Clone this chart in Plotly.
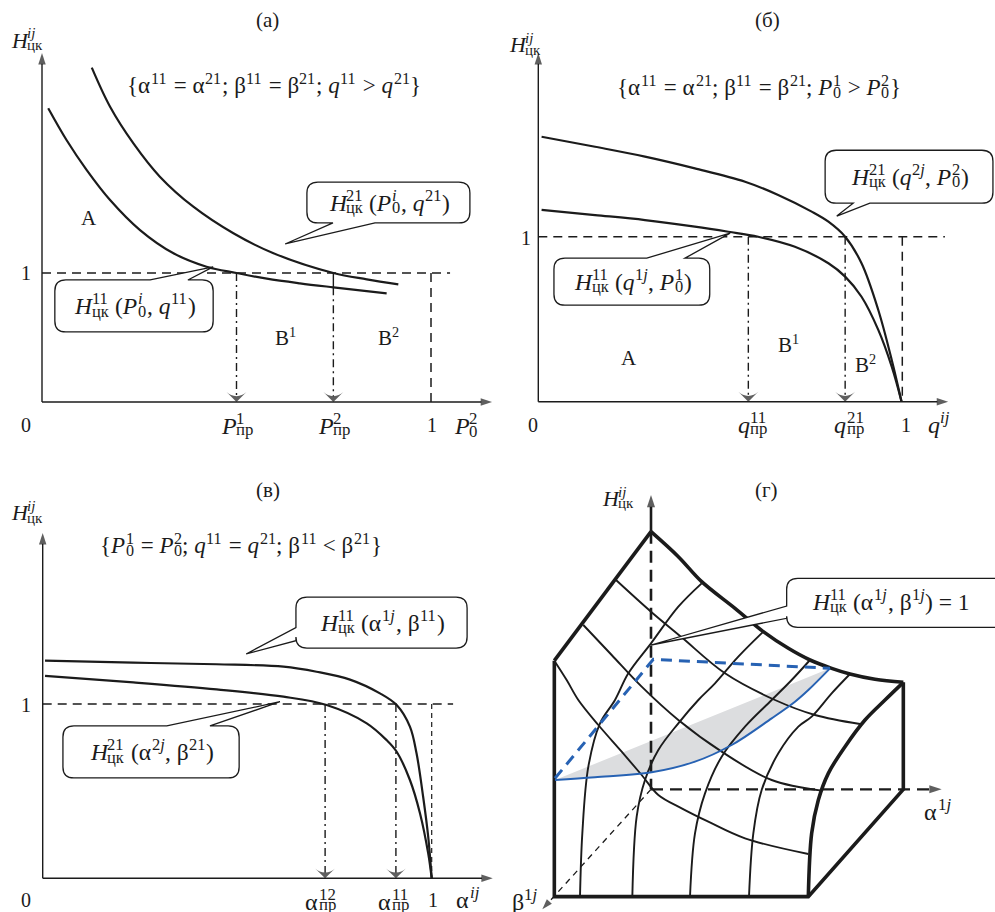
import plotly.graph_objects as go

W, H = 995, 912
FONT = "'Liberation Serif', 'Times New Roman', Tinos, 'DejaVu Serif', serif"
INK = "#1b1b1b"
BLUE = "#2762b3"
GRAY = "#dcdddf"

# ---------------- data: panel (а) ----------------
a_h11_x = [0.016, 0.063, 0.115, 0.175, 0.252, 0.338, 0.423, 0.500, 0.578, 0.663, 0.749, 0.886]
a_h11_y = [2.277, 2.031, 1.798, 1.566, 1.333, 1.153, 1.049, 1.000, 0.956, 0.920, 0.889, 0.842]
a_h21_x = [0.128, 0.175, 0.235, 0.303, 0.389, 0.492, 0.595, 0.749, 0.835, 0.916]
a_h21_y = [2.592, 2.289, 2.005, 1.747, 1.514, 1.308, 1.153, 1.000, 0.951, 0.912]
a_limits = [0.500, 0.749]
a_limit_low = 0.889
a_axes = [1.157, 2.705, 1.049]        # x-axis end, y-axis end, end of level line

# ---------------- data: panel (б) ----------------
b_h21_x = [0.009, 0.156, 0.293, 0.430, 0.568, 0.659, 0.751, 0.797, 0.843, 0.888, 0.934, 0.971, 0.998]
b_h21_y = [1.606, 1.545, 1.485, 1.414, 1.333, 1.253, 1.152, 1.091, 1.000, 0.839, 0.556, 0.253, 0.0]
b_h11_x = [0.009, 0.156, 0.293, 0.430, 0.522, 0.604, 0.705, 0.797, 0.843, 0.888, 0.934, 0.971, 0.998]
b_h11_y = [1.162, 1.131, 1.101, 1.061, 1.030, 1.000, 0.939, 0.839, 0.758, 0.636, 0.435, 0.212, 0.0]
b_limits = [0.577, 0.843]
b_axes = [1.126, 2.113, 1.117]

# ---------------- data: panel (в) ----------------
c_h11_x = [0.006, 0.233, 0.447, 0.619, 0.704, 0.790, 0.867, 0.910, 0.944, 0.961, 0.978, 0.991, 1.0]
c_h11_y = [1.249, 1.237, 1.228, 1.214, 1.185, 1.140, 1.061, 0.994, 0.870, 0.717, 0.468, 0.239, 0.0]
c_h21_x = [0.006, 0.233, 0.447, 0.619, 0.730, 0.833, 0.884, 0.910, 0.944, 0.970, 0.991, 1.0]
c_h21_y = [1.161, 1.124, 1.084, 1.042, 0.994, 0.889, 0.793, 0.726, 0.564, 0.372, 0.143, 0.0]
c_limits = [0.726, 0.908]
c_axes = [1.157, 1.981, 1.055]

# ---------------- data: panel (г), schematic surface (drawing units) ----------------
g_apex = [468, 245]
g_origin = [468, 1018]
g_top_left_x = [468, 178]
g_top_left_y = [245, 632]
g_top_right_x = [468, 550, 620, 720, 805, 880, 945, 1010, 1065, 1140, 1225]
g_top_right_y = [245, 320, 395, 475, 545, 595, 630, 655, 672, 688, 697]
g_front_x = [1225, 1170, 1110, 1050, 1000, 970, 950, 940]
g_front_y = [697, 750, 810, 890, 970, 1050, 1150, 1340]
g_box_x = [178, 178, 940, 1225, 1225]
g_box_y = [632, 1340, 1340, 1018, 697]
g_b1_x = [363, 468, 560, 690, 840, 960, 1095]
g_b1_y = [390, 485, 562, 670, 750, 795, 822]
g_b2_x = [265, 350, 440, 550, 680, 830, 980]
g_b2_y = [525, 615, 710, 810, 905, 990, 1022]
g_b3_x = [178, 215, 250, 310, 380, 440, 490, 560, 640, 750, 940]
g_b3_y = [632, 690, 750, 825, 905, 975, 1035, 1075, 1115, 1165, 1212]
g_a1_x = [620, 550, 468, 400, 360, 315, 280, 262, 255]
g_a1_y = [400, 470, 580, 670, 750, 820, 950, 1150, 1340]
g_a2_x = [805, 730, 660, 610, 550, 490, 450, 425, 412]
g_a2_y = [545, 620, 700, 750, 820, 900, 990, 1100, 1340]
g_a3_x = [945, 890, 830, 750, 680, 630, 600, 585]
g_a3_y = [630, 690, 750, 830, 920, 1030, 1150, 1340]
g_a4_x = [1065, 1010, 950, 910, 850, 800, 775, 762]
g_a4_y = [672, 730, 800, 830, 910, 1020, 1150, 1340]
g_blue_dash_x = [180, 475, 1005]
g_blue_dash_y = [985, 628, 655]
g_blue_x = [180, 300, 470, 600, 710, 830, 900, 940, 1005]
g_blue_y = [990, 982, 967, 935, 885, 805, 755, 720, 655]
g_alpha_end = [1340, 1018]
g_beta_end = [142, 1378]
g_h_end = [468, 135]

fig = go.Figure()


class Panel:
    def __init__(self, idx, px0, px1, py0, py1, region):
        self.idx = idx
        self.px0, self.py0 = px0, py0
        self.sx, self.sy = px1 - px0, py0 - py1
        self.region = region
        s = "" if idx == 1 else str(idx)
        self.xa, self.ya = "x" + s, "y" + s
        self.key = s

    def px(self, x, y):
        return self.px0 + x * self.sx, self.py0 - y * self.sy

    def data(self, X, Y):
        return (X - self.px0) / self.sx, (self.py0 - Y) / self.sy

    def apply(self):
        rx0, rx1, ry0, ry1 = self.region
        xr = [self.data(rx0, 0)[0], self.data(rx1, 0)[0]]
        yr = [self.data(0, ry1)[1], self.data(0, ry0)[1]]
        fig.layout["xaxis" + self.key] = dict(domain=[rx0 / W, rx1 / W], range=xr, visible=False,
                                              fixedrange=True, anchor=self.ya)
        fig.layout["yaxis" + self.key] = dict(domain=[1 - ry1 / H, 1 - ry0 / H], range=yr, visible=False,
                                              fixedrange=True, anchor=self.xa)


PA = Panel(1, 42, 431, 402, 273, (0, 495, 0, 450))
PB = Panel(2, 538.3, 902.3, 401.7, 236.7, (495, 995, 0, 450))
PC = Panel(3, 42.7, 431.7, 878.3, 704, (0, 495, 450, 912))
PD = Panel(4, 495, 495 + 1 / 3, 450, 450 + 1 / 3, (495, 995, 450, 912))
for P in (PA, PB, PC, PD):
    P.apply()


def line(P, xs, ys, width=2.0, dash="solid", color=INK, spline=False):
    fig.add_trace(go.Scatter(x=xs, y=ys, xaxis=P.xa, yaxis=P.ya, mode="lines", hoverinfo="skip",
                             line=dict(color=color, width=width, dash=dash,
                                       shape="spline" if spline else "linear", smoothing=1.0)))


def arrow(P, x0, y0, x1, y1, width=1.4, size=12, symbol="arrow", dash="solid"):
    fig.add_trace(go.Scatter(x=[x0, x1], y=[y0, y1], xaxis=P.xa, yaxis=P.ya, mode="lines+markers",
                             hoverinfo="skip", line=dict(color=INK, width=width, dash=dash),
                             marker=dict(symbol=["circle", symbol], size=[0, size], color=INK,
                                         angleref="previous", line=dict(width=0))))


REG = {' ': 0.25, '(': 0.333, ')': 0.333, ',': 0.25, ';': 0.278, '=': 0.564, '>': 0.564, '<': 0.564,
       '{': 0.48, '}': 0.48, 'A': 0.722, 'B': 0.667, 'α': 0.55, 'β': 0.5, 'ц': 0.5, 'к': 0.47,
       'п': 0.5, 'р': 0.5, 'а': 0.444, 'б': 0.5, 'в': 0.47, 'г': 0.41}
ITAL = {'H': 0.722, 'P': 0.611, 'q': 0.5, 'i': 0.278, 'j': 0.278}


def strw(s):
    return sum(ITAL.get(c, REG.get(c, 0.5)) for c in s)


def fmt(s):
    out = ""
    for c in s:
        t = {'<': '&lt;', '>': '&gt;'}.get(c, c)
        out += "<i>%s</i>" % t if c in ITAL else t
    return out.replace("</i><i>", "")


def parse(s):
    items, i = [], 0
    while i < len(s):
        c = s[i]
        if c in "^_":
            if s[i + 1] == "{":
                j = s.index("}", i)
                g = s[i + 2:j]
                i = j + 1
            else:
                g = s[i + 1]
                i += 2
            if items and items[-1][0] == "s":
                last = items[-1]
            else:
                last = ["s", "", ""]
                items.append(last)
            last[1 if c == "^" else 2] = g
        else:
            items.append(["c", c])
            i += 1
    return items


def label(P, x, y, s, size=21, align="center", r=0.68, sup=0.30, sub=-0.22):
    pieces, run = [], ""
    for it in parse(s):
        if it[0] == "c":
            run += it[1]
        else:
            if run:
                pieces.append(("r", run))
                run = ""
            pieces.append(("s", it[1], it[2]))
    if run:
        pieces.append(("r", run))
    ss = size * r
    total, lay = 0.0, []
    for p in pieces:
        if p[0] == "r":
            lay.append((total, fmt(p[1]), size, 0))
            total += strw(p[1]) * size
        else:
            if p[1]:
                lay.append((total + 0.02 * size, fmt(p[1]), ss, sup * size))
            if p[2]:
                lay.append((total + 0.02 * size, fmt(p[2]), ss, sub * size))
            total += max(strw(p[1]), strw(p[2])) * ss + 0.05 * size
    start = {"center": -total / 2, "left": 0, "right": -total}[align]
    for off, txt, fs, ysh in lay:
        fig.add_annotation(x=x, y=y, xref=P.xa, yref=P.ya, text=txt, showarrow=False,
                           xanchor="left", yanchor="middle", xshift=start + off, yshift=ysh,
                           borderpad=0, font=dict(family=FONT, size=fs, color=INK))


def callout(P, box, side, bases, tip, text, size=23.5, r=11):
    x0, x1, y0, y1 = box
    Xa, Ya = P.px(x0, y0)
    Xb, Yb = P.px(x1, y1)
    L, R, T, B = min(Xa, Xb), max(Xa, Xb), min(Ya, Yb), max(Ya, Yb)
    TX, TY = P.px(*tip)
    if side == "left":
        bs = sorted(P.px(x0, b)[1] for b in bases)
    else:
        bs = sorted(P.px(b, y0)[0] for b in bases)
    pts = [("M", L + r, T)]
    if side == "top":
        pts += [("L", bs[0], T), ("L", TX, TY), ("L", bs[1], T)]
    pts += [("L", R - r, T), ("Q", R, T, R, T + r), ("L", R, B - r), ("Q", R, B, R - r, B)]
    if side == "bottom":
        pts += [("L", bs[1], B), ("L", TX, TY), ("L", bs[0], B)]
    pts += [("L", L + r, B), ("Q", L, B, L, B - r)]
    if side == "left":
        pts += [("L", L, bs[1]), ("L", TX, TY), ("L", L, bs[0])]
    pts += [("L", L, T + r), ("Q", L, T, L + r, T)]
    path = ""
    for p in pts:
        cmd, vals = p[0], p[1:]
        coords = []
        for k in range(0, len(vals), 2):
            dx, dy = P.data(vals[k], vals[k + 1])
            coords.append("%.5f,%.5f" % (dx, dy))
        path += cmd + " ".join(coords) + " "
    fig.add_shape(type="path", path=path + "Z", xref=P.xa, yref=P.ya, layer="above",
                  line=dict(color=INK, width=1.3), fillcolor="white")
    if text:
        cx, cy = P.data((L + R) / 2, (T + B) / 2)
        label(P, cx, cy, text, size=size, r=0.7)


DASH = "9px,6px"
DASHDOT = "8px,4px,2px,4px"
COND, MATH, NUM, TTL, LET, HAX = 23, 24, 20, 21, 21, 22


def axis_math(P, x, y, s, align="center"):
    label(P, x, y, s, MATH, align, r=0.7, sup=0.30, sub=-0.13)


# ---------------- panel (а) ----------------
P = PA
arrow(P, 0, 0, a_axes[0], 0)
arrow(P, 0, 0, 0, a_axes[1])
line(P, [0, a_axes[2]], [1, 1], 1.5, DASH)
line(P, [1, 1], [1, 0], 1.5, DASH)
line(P, a_h11_x, a_h11_y, 2.2, spline=True)
line(P, a_h21_x, a_h21_y, 2.2, spline=True)
arrow(P, a_limits[0], 1, a_limits[0], 0, 1.4, 14, "arrow-wide", DASHDOT)
line(P, [a_limits[1], a_limits[1]], [1, a_limit_low], 1.4)
arrow(P, a_limits[1], a_limit_low, a_limits[1], 0, 1.4, 14, "arrow-wide", DASHDOT)
label(P, 0.578, 2.961, "(а)", TTL)
label(P, -0.082, 2.806, "H_{цк}^{ij}", HAX, "left")
label(P, 0.594, 2.457, "{α^{11} = α^{21}; β^{11} = β^{21}; q^{11} > q^{21}}", COND, r=0.7)
label(P, 0.118, 1.426, "A", LET)
label(P, 0.625, 0.496, "B^1", LET)
label(P, 0.889, 0.496, "B^2", LET)
label(P, -0.044, -0.180, "0", NUM)
label(P, -0.044, 1.0, "1", NUM)
axis_math(P, a_limits[0], -0.186, "P_{пр}^1")
axis_math(P, a_limits[1], -0.186, "P_{пр}^2")
label(P, 1.0, -0.180, "1", NUM)
label(P, 1.057, -0.186, "P_0^2", MATH, "left", r=0.7)
callout(P, (0.681, 1.100, 1.705, 1.388), "bottom", [0.748, 0.856], (0.625, 1.225),
        "H_{цк}^{21} (P_0^i, q^{21})")
callout(P, (0.033, 0.440, 0.946, 0.543), "top", [0.278, 0.375], (0.440, 1.047),
        "H_{цк}^{11} (P_0^i, q^{11})")

# ---------------- panel (б) ----------------
P = PB
arrow(P, 0, 0, b_axes[0], 0)
arrow(P, 0, 0, 0, b_axes[1])
line(P, [0, b_axes[2]], [1, 1], 1.5, DASH)
line(P, [1, 1], [1, 0], 1.5, DASH)
line(P, b_h21_x, b_h21_y, 2.2, spline=True)
line(P, b_h11_x, b_h11_y, 2.2, spline=True)
for xl in b_limits:
    arrow(P, xl, 1, xl, 0, 1.4, 14, "arrow-wide", DASHDOT)
label(P, 0.627, 2.313, "(б)", TTL)
label(P, -0.083, 2.162, "H_{цк}^{ij}", HAX, "left")
label(P, 0.603, 1.907, "{α^{11} = α^{21}; β^{11} = β^{21}; P_0^1 > P_0^2}", COND, r=0.7)
label(P, -0.037, 0.992, "1", NUM)
label(P, -0.017, -0.142, "0", NUM)
axis_math(P, 0.587, -0.142, "q_{пр}^{11}")
axis_math(P, 0.851, -0.142, "q_{пр}^{21}")
label(P, 1.007, -0.142, "1", NUM)
label(P, 1.067, -0.142, "q^{ij}", MATH, "left", r=0.7)
label(P, 0.246, 0.265, "A", LET)
label(P, 0.686, 0.343, "B^1", LET)
label(P, 0.897, 0.222, "B^2", LET)
callout(P, (0.788, 1.249, 1.524, 1.203), "bottom", [0.865, 0.911], (0.820, 1.125),
        "H_{цк}^{21} (q^{2j}, P_0^2)")
callout(P, (0.043, 0.471, 0.870, 0.585), "top", [0.298, 0.403], (0.527, 1.022),
        "H_{цк}^{11} (q^{1j}, P_0^1)")

# ---------------- panel (в) ----------------
P = PC
arrow(P, 0, 0, c_axes[0], 0)
arrow(P, 0, 0, 0, c_axes[1])
line(P, [0, c_axes[2]], [1, 1], 1.5, DASH)
line(P, [1, 1], [1, 0], 1.2, "5px,4px")
line(P, c_h11_x, c_h11_y, 2.2, spline=True)
line(P, c_h21_x, c_h21_y, 2.2, spline=True)
for xl in c_limits:
    arrow(P, xl, 1, xl, 0, 1.4, 14, "arrow-wide", DASHDOT)
label(P, 0.576, 2.228, "(в)", TTL)
label(P, -0.084, 2.096, "H_{цк}^{ij}", HAX, "left")
label(P, 0.507, 1.912, "{P_0^1 = P_0^2; q^{11} = q^{21}; β^{11} < β^{21}}", COND, r=0.7)
label(P, -0.046, 0.995, "1", NUM)
label(P, -0.046, -0.124, "0", NUM)
axis_math(P, 0.713, -0.134, "α_{пр}^{12}")
axis_math(P, 0.900, -0.134, "α_{пр}^{11}")
label(P, 1.0, -0.124, "1", NUM)
label(P, 1.060, -0.124, "α^{ij}", MATH, "left", r=0.7)
callout(P, (0.651, 1.091, 1.613, 1.321), "left", [1.363, 1.438], (0.523, 1.287),
        "H_{цк}^{11} (α^{1j}, β^{11})")
callout(P, (0.052, 0.505, 0.874, 0.576), "top", [0.319, 0.430], (0.610, 1.013),
        "H_{цк}^{21} (α^{2j}, β^{21})")

# ---------------- panel (г) ----------------
P = PD
fig.add_trace(go.Scatter(x=[g_blue_x[0], g_blue_x[-1]], y=[g_blue_y[0], g_blue_y[-1]], xaxis=P.xa,
                         yaxis=P.ya, mode="lines", line=dict(width=0), hoverinfo="skip"))
fig.add_trace(go.Scatter(x=g_blue_x, y=g_blue_y, xaxis=P.xa, yaxis=P.ya, mode="lines", fill="tonext",
                         fillcolor=GRAY, line=dict(width=0, shape="spline"), hoverinfo="skip"))
line(P, [g_apex[0], g_origin[0]], [g_apex[1], g_origin[1]], 2.6, "12px,7px")
arrow(P, g_origin[0], g_origin[1], g_alpha_end[0], g_alpha_end[1], 2.4, 13, "arrow", "12px,7px")
arrow(P, g_origin[0], g_origin[1], g_beta_end[0], g_beta_end[1], 1.3, 11, "arrow", "6px,5px")
arrow(P, g_apex[0], g_apex[1], g_h_end[0], g_h_end[1], 2.6, 13, "arrow")
for gx, gy in [(g_b1_x, g_b1_y), (g_b2_x, g_b2_y), (g_b3_x, g_b3_y),
               (g_a1_x, g_a1_y), (g_a2_x, g_a2_y), (g_a3_x, g_a3_y), (g_a4_x, g_a4_y)]:
    line(P, gx, gy, 1.9, spline=True)
line(P, g_top_left_x, g_top_left_y, 3.6)
line(P, g_top_right_x, g_top_right_y, 3.6, spline=True)
line(P, g_front_x, g_front_y, 3.6, spline=True)
line(P, g_box_x, g_box_y, 3.6)
line(P, g_blue_dash_x, g_blue_dash_y, 3.0, "11px,7px", BLUE)
line(P, g_blue_x, g_blue_y, 2.0, color=BLUE, spline=True)
label(P, 810, 120, "(г)", TTL)
label(P, 318, 145, "H_{цк}^{ij}", HAX, "left")
label(P, 1285, 1085, "α^{1j}", MATH, "left", r=0.7)
label(P, 48, 1355, "β^{1j}", MATH, "left", r=0.7)
callout(P, (875, 1620, 385, 532), "left", [468, 505], (468, 585), "")
label(P, 1185, 455, "H_{цк}^{11} (α^{1j}, β^{1j}) = 1", 23.5, r=0.7)

fig.update_layout(width=W, height=H, margin=dict(l=0, r=0, t=0, b=0), paper_bgcolor="white",
                  plot_bgcolor="rgba(0,0,0,0)", showlegend=False, hovermode=False,
                  font=dict(family=FONT, color=INK))
fig.write_html("out.html", config={"displayModeBar": False},
               post_script="document.body.style.margin='0';document.body.style.overflow='hidden';")
